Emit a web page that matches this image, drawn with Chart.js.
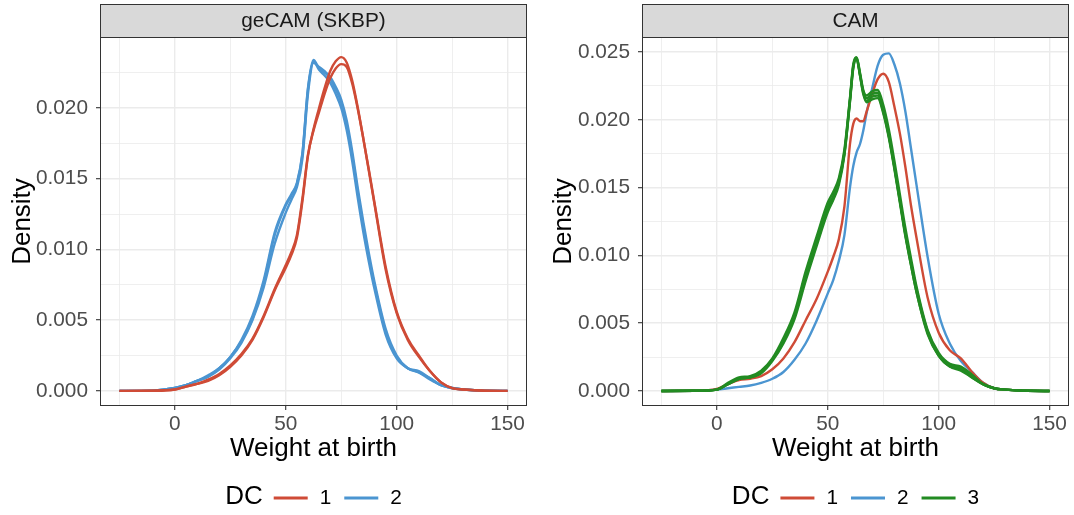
<!DOCTYPE html>
<html>
<head>
<meta charset="utf-8">
<title>Weight at birth densities</title>
<script src="https://cdn.jsdelivr.net/npm/chart.js@4.4.1/dist/chart.umd.min.js"></script>
<style>
  body { margin: 0; background: #ffffff; }
  .panel { position: absolute; top: 0; width: 537px; height: 515px; }
</style>
</head>
<body>
<div class="panel" style="left:0"><canvas id="leftChart" width="537" height="515"></canvas></div>
<div class="panel" style="left:537px"><canvas id="rightChart" width="537" height="515"></canvas></div>
<script>
// x grids the densities were read on
const weightLeft = [-25, -10, 0, 5, 10, 15, 20, 25, 30, 35, 40, 45, 50, 52.5, 55, 57.5, 60, 62.5, 65, 67.5,
    70, 72.5, 75, 77.5, 80, 82.5, 85, 87.5, 90, 95, 100, 105, 110, 115, 120, 125, 130, 140, 150];
const weightRight = [-25, -10, 0, 5, 10, 15, 20, 25, 30, 35, 40, 45, 50, 52.5, 55, 57.5, 60, 61.5, 63, 64.5,
    66, 67.5, 70, 72.5, 75, 77.5, 80, 82.5, 85, 87.5, 90, 95, 100, 105, 110, 115, 120, 125, 130, 140, 150];

// geCAM (SKBP) panel
const leftRed1 = [0, 0.00001, 0.0001, 0.0003, 0.0005, 0.0007, 0.0011, 0.0017, 0.0025, 0.0036, 0.0052, 0.0071, 0.0087,
    0.0096, 0.0108, 0.0134, 0.0166, 0.0185, 0.0200, 0.0214, 0.0226, 0.0233, 0.0236, 0.0232, 0.0219, 0.0200, 0.0178,
    0.0155, 0.0132, 0.0086, 0.0055, 0.0036, 0.0024, 0.0014, 0.0006, 0.0002, 0.0001, 0.00001, 0];
const leftRed2 = [0, 0.00001, 0.0001, 0.0003, 0.0005, 0.0008, 0.0012, 0.0018, 0.0026, 0.0037, 0.0053, 0.0072, 0.0089,
    0.0098, 0.0110, 0.0136, 0.0167, 0.0184, 0.0197, 0.0210, 0.0221, 0.0228, 0.0231, 0.0229, 0.0217, 0.0199, 0.0178,
    0.0156, 0.0133, 0.0088, 0.0056, 0.0037, 0.0025, 0.0014, 0.0006, 0.0002, 0.0001, 0.00001, 0];
const leftBlue1 = [0, 0.00002, 0.0002, 0.0004, 0.0007, 0.0010, 0.0016, 0.0024, 0.0036, 0.0053, 0.0078, 0.0112, 0.0132,
    0.0139, 0.0147, 0.0168, 0.0214, 0.0234, 0.0228, 0.0225, 0.0221, 0.0213, 0.0204, 0.0188, 0.0166, 0.0140, 0.0116,
    0.0094, 0.0075, 0.0042, 0.0024, 0.0016, 0.0014, 0.0009, 0.0004, 0.0002, 0.0001, 0.00001, 0];
const leftBlue2 = [0, 0.00002, 0.0002, 0.0004, 0.0007, 0.0010, 0.0015, 0.0023, 0.0034, 0.0050, 0.0073, 0.0104, 0.0126,
    0.0135, 0.0144, 0.0164, 0.0210, 0.0232, 0.0229, 0.0226, 0.0222, 0.0215, 0.0206, 0.0191, 0.0169, 0.0143, 0.0119,
    0.0097, 0.0077, 0.0044, 0.0025, 0.0016, 0.0013, 0.0009, 0.0004, 0.0002, 0.0001, 0.00001, 0];
const leftBlue3 = [0, 0.00002, 0.0002, 0.0004, 0.0007, 0.0011, 0.0016, 0.0024, 0.0035, 0.0051, 0.0076, 0.0110, 0.0131,
    0.0138, 0.0146, 0.0167, 0.0213, 0.0233, 0.0227, 0.0223, 0.0218, 0.0210, 0.0200, 0.0184, 0.0162, 0.0136, 0.0112,
    0.0091, 0.0072, 0.0040, 0.0023, 0.0016, 0.0013, 0.0008, 0.0004, 0.0002, 0.0001, 0.00001, 0];

// CAM panel
const rightRed = [0, 0.00001, 0.00015, 0.0005, 0.0008, 0.0009, 0.0011, 0.0016, 0.0024, 0.0036, 0.0052, 0.0068, 0.0088,
    0.0099, 0.0112, 0.0136, 0.0182, 0.0197, 0.0201, 0.0199, 0.0199, 0.0206, 0.0219, 0.0230, 0.0234, 0.0228, 0.0210,
    0.0190, 0.0165, 0.0137, 0.0113, 0.0069, 0.0043, 0.0030, 0.0024, 0.0014, 0.0006, 0.0002, 0.0001, 0.00001, 0];
const rightBlue = [0, 0.00001, 0.0001, 0.0002, 0.0003, 0.0004, 0.0006, 0.0009, 0.0014, 0.0023, 0.0035, 0.0052, 0.0072,
    0.0082, 0.0096, 0.0115, 0.0150, 0.0166, 0.0176, 0.0182, 0.0192, 0.0205, 0.0223, 0.0240, 0.0248, 0.0249, 0.0241,
    0.0227, 0.0206, 0.0179, 0.0152, 0.0099, 0.0057, 0.0035, 0.0022, 0.0014, 0.0006, 0.0002, 0.0001, 0.00001, 0];
const rightGreen1 = [0, 0.00001, 0.0001, 0.0005, 0.0009, 0.0010, 0.0014, 0.0023, 0.0037, 0.0056, 0.0085, 0.0111, 0.0136,
    0.0144, 0.0155, 0.0176, 0.0215, 0.0240, 0.0246, 0.0234, 0.0221, 0.0216, 0.0219, 0.0220, 0.0208, 0.0189, 0.0166,
    0.0141, 0.0116, 0.0095, 0.0075, 0.0044, 0.0027, 0.0019, 0.0017, 0.0011, 0.0005, 0.0002, 0.0001, 0.00001, 0];
const rightGreen2 = [0, 0.00001, 0.0001, 0.0005, 0.0009, 0.0010, 0.0013, 0.0022, 0.0035, 0.0053, 0.0081, 0.0107, 0.0132,
    0.0141, 0.0152, 0.0174, 0.0213, 0.0238, 0.0245, 0.0233, 0.0219, 0.0213, 0.0215, 0.0216, 0.0205, 0.0187, 0.0164,
    0.0139, 0.0114, 0.0093, 0.0073, 0.0042, 0.0026, 0.0018, 0.0015, 0.0010, 0.0005, 0.0002, 0.0001, 0.00001, 0];
const rightGreen3 = [0, 0.00001, 0.0001, 0.0006, 0.0010, 0.0011, 0.0015, 0.0024, 0.0039, 0.0058, 0.0088, 0.0114, 0.0139,
    0.0147, 0.0157, 0.0178, 0.0216, 0.0241, 0.0246, 0.0235, 0.0222, 0.0218, 0.0221, 0.0222, 0.0211, 0.0193, 0.0170,
    0.0145, 0.0120, 0.0098, 0.0077, 0.0045, 0.0028, 0.0020, 0.0018, 0.0012, 0.0005, 0.0002, 0.0001, 0.00001, 0];
const rightGreen4 = [0, 0.00001, 0.0001, 0.0005, 0.0009, 0.0010, 0.0014, 0.0023, 0.0036, 0.0055, 0.0083, 0.0109, 0.0134,
    0.0142, 0.0154, 0.0175, 0.0214, 0.0239, 0.0245, 0.0233, 0.0220, 0.0214, 0.0217, 0.0218, 0.0206, 0.0188, 0.0165,
    0.0140, 0.0115, 0.0093, 0.0073, 0.0043, 0.0026, 0.0018, 0.0016, 0.0010, 0.0005, 0.0002, 0.0001, 0.00001, 0];

// ticks
const xMajorTicks = [0, 50, 100, 150];
const xMinorTicks = [-25, 25, 75, 125];
const yMajorLeft = [0, 0.005, 0.010, 0.015, 0.020];
const yMinorLeft = [0.0025, 0.0075, 0.0125, 0.0175, 0.0225];
const yMajorRight = [0, 0.005, 0.010, 0.015, 0.020, 0.025];
const yMinorRight = [0.0025, 0.0075, 0.0125, 0.0175, 0.0225];

const dcColors = { '1': '#CF4B36', '2': '#4B95D1', '3': '#228B22' };
const FONT = '"Liberation Sans", Arial, Helvetica, sans-serif';
Chart.defaults.font.family = FONT;

function toPoints(xs, ys) {
    return xs.map((x, i) => ({ x: x, y: ys[i] }));
}

function densityLine(dc, xs, ys) {
    return {
        label: dc,
        data: toPoints(xs, ys),
        borderColor: dcColors[dc],
        backgroundColor: dcColors[dc],
        borderWidth: 2.4,
        pointRadius: 0,
        fill: false,
        cubicInterpolationMode: 'monotone'
    };
}

// strip on top, panel border and the DC legend under the panel
const facetDecor = {
    id: 'facetDecor',
    afterDraw(chart, args, opts) {
        const ctx = chart.ctx;
        const a = chart.chartArea;
        ctx.save();
        ctx.fillStyle = '#d9d9d9';
        ctx.fillRect(a.left, 4, a.right - a.left, a.top - 4);
        ctx.strokeStyle = '#333333';
        ctx.lineWidth = 1;
        ctx.strokeRect(a.left + 0.5, 4.5, a.right - a.left - 1, a.top - 4);
        ctx.strokeRect(a.left + 0.5, a.top + 0.5, a.right - a.left - 1, a.bottom - a.top - 1);
        ctx.fillStyle = '#1a1a1a';
        ctx.font = '20.8px ' + FONT;
        ctx.textAlign = 'center';
        ctx.textBaseline = 'middle';
        ctx.fillText(opts.title, (a.left + a.right) / 2, (4 + a.top) / 2 + 1);

        // one legend key per DC group
        const seen = {};
        const items = [];
        chart.data.datasets.forEach(ds => {
            if (!seen[ds.label]) {
                seen[ds.label] = true;
                items.push({ text: ds.label, color: ds.borderColor });
            }
        });
        items.sort((p, q) => p.text.localeCompare(q.text));

        const keyW = 34, gapTitle = 11, gapKey = 12, gapItem = 13;
        ctx.font = '26px ' + FONT;
        const titleW = ctx.measureText(opts.legendTitle).width;
        ctx.font = '20.8px ' + FONT;
        let total = titleW + gapTitle;
        items.forEach((it, i) => {
            total += keyW + gapKey + ctx.measureText(it.text).width + (i < items.length - 1 ? gapItem : 0);
        });
        let x = (a.left + a.right) / 2 - total / 2;
        const y = 497;
        ctx.textAlign = 'left';
        ctx.fillStyle = '#000000';
        ctx.font = '26px ' + FONT;
        ctx.fillText(opts.legendTitle, x, y);
        x += titleW + gapTitle;
        ctx.font = '20.8px ' + FONT;
        items.forEach(it => {
            ctx.strokeStyle = it.color;
            ctx.lineWidth = 3;
            ctx.beginPath();
            ctx.moveTo(x, y + 1);
            ctx.lineTo(x + keyW, y + 1);
            ctx.stroke();
            x += keyW + gapKey;
            ctx.fillStyle = '#000000';
            ctx.fillText(it.text, x, y + 1);
            x += ctx.measureText(it.text).width + gapItem;
        });
        ctx.restore();
    }
};

function makePanel(canvasId, stripTitle, datasets, yMin, yMax, yMajor, yMinor, axisWidth, titlePad, padRight) {
    const yAll = yMajor.concat(yMinor).sort((p, q) => p - q);
    const xAll = xMajorTicks.concat(xMinorTicks).sort((p, q) => p - q);
    const isMajorX = v => xMajorTicks.includes(v);
    const isMajorY = v => yMajor.some(m => Math.abs(m - v) < 1e-9);

    return new Chart(document.getElementById(canvasId), {
        type: 'line',
        data: { datasets: datasets },
        plugins: [facetDecor],
        options: {
            responsive: false,
            animation: false,
            devicePixelRatio: 1,
            layout: { padding: { top: 37, right: padRight, bottom: 47, left: 0 } },
            plugins: {
                legend: { display: false },
                tooltip: { enabled: false },
                facetDecor: { title: stripTitle, legendTitle: 'DC' }
            },
            scales: {
                x: {
                    type: 'linear',
                    min: -33.75,
                    max: 158.75,
                    afterBuildTicks: scale => { scale.ticks = xAll.map(v => ({ value: v })); },
                    afterFit: scale => { scale.height = 62; },
                    ticks: {
                        autoSkip: false,
                        maxRotation: 0,
                        padding: 2,
                        color: '#4d4d4d',
                        font: { size: 20.8 },
                        callback: v => isMajorX(v) ? String(v) : ''
                    },
                    grid: {
                        color: '#ebebeb',
                        lineWidth: c => (c.tick && isMajorX(c.tick.value)) ? 1.4 : 0.8,
                        tickLength: 4,
                        tickWidth: 1.1,
                        tickColor: c => (c.tick && isMajorX(c.tick.value)) ? '#333333' : 'rgba(0,0,0,0)'
                    },
                    border: { display: false },
                    title: {
                        display: true,
                        text: 'Weight at birth',
                        color: '#000000',
                        font: { size: 26 },
                        padding: { top: 0, bottom: 4 }
                    }
                },
                y: {
                    type: 'linear',
                    min: yMin,
                    max: yMax,
                    afterBuildTicks: scale => { scale.ticks = yAll.map(v => ({ value: v })); },
                    afterFit: scale => { scale.width = axisWidth; },
                    ticks: {
                        autoSkip: false,
                        padding: 8,
                        color: '#4d4d4d',
                        font: { size: 20.8 },
                        callback: v => isMajorY(v) ? v.toFixed(3) : ''
                    },
                    grid: {
                        color: '#ebebeb',
                        lineWidth: c => (c.tick && isMajorY(c.tick.value)) ? 1.4 : 0.8,
                        tickLength: 4,
                        tickWidth: 1.1,
                        tickColor: c => (c.tick && isMajorY(c.tick.value)) ? '#333333' : 'rgba(0,0,0,0)'
                    },
                    border: { display: false },
                    title: {
                        display: true,
                        text: 'Density',
                        color: '#000000',
                        font: { size: 26 },
                        padding: { top: titlePad, bottom: 0 }
                    }
                }
            }
        }
    });
}

makePanel('leftChart', 'geCAM (SKBP)', [
    densityLine('1', weightLeft, leftRed1),
    densityLine('1', weightLeft, leftRed2),
    densityLine('2', weightLeft, leftBlue1),
    densityLine('2', weightLeft, leftBlue2),
    densityLine('2', weightLeft, leftBlue3)
], -0.00107, 0.02502, yMajorLeft, yMinorLeft, 100, 7, 10);

makePanel('rightChart', 'CAM', [
    densityLine('3', weightRight, rightGreen1),
    densityLine('3', weightRight, rightGreen2),
    densityLine('3', weightRight, rightGreen3),
    densityLine('3', weightRight, rightGreen4),
    densityLine('1', weightRight, rightRed),
    densityLine('2', weightRight, rightBlue)
], -0.00111, 0.02611, yMajorRight, yMinorRight, 105, 11, 5);
</script>
</body>
</html>
